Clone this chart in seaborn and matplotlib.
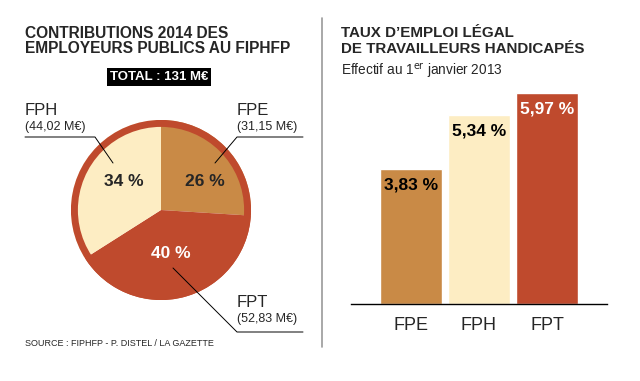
import matplotlib
matplotlib.use("Agg")
import matplotlib.pyplot as plt
from matplotlib.lines import Line2D
from matplotlib.patches import Circle
import pandas as pd
import seaborn as sns

# data
pie_labels = ["FPE", "FPT", "FPH"]
pie_share = [26, 40, 34]
pie_amounts = ["31,15 M€", "52,83 M€", "44,02 M€"]
bar_labels = ["FPE", "FPH", "FPT"]
bar_values = [3.83, 5.34, 5.97]
bar_text = ["3,83 %", "5,34 %", "5,97 %"]

colors = {"FPE": "#C98A46", "FPH": "#FDEDC3", "FPT": "#BF4A2D"}

sns.set_theme(style="white")
plt.rcParams["font.family"] = ["Liberation Sans", "DejaVu Sans"]

W, H = 640, 381
fig = plt.figure(figsize=(W / 100, H / 100), dpi=100)
fig.patch.set_facecolor("white")


def px(x, y):
    return x / W, 1 - y / H


def line(xs, ys, **kw):
    fig.add_artist(Line2D([x / W for x in xs], [1 - y / H for y in ys],
                          transform=fig.transFigure, **kw))


# ---- left: pie ----
ax_pie = fig.add_axes([71 / W, 1 - 300 / H, 180 / W, 180 / H])
ax_pie.pie(pie_share, colors=[colors[k] for k in pie_labels], startangle=90,
           counterclock=False, radius=1, wedgeprops=dict(linewidth=0))
ax_pie.add_patch(Circle((0, 0), 0.962, fill=False, edgecolor=colors["FPT"], lw=5))
ax_pie.set_xlim(-1, 1)
ax_pie.set_ylim(-1, 1)
ax_pie.axis("off")

fig.text(*px(25, 38), "CONTRIBUTIONS 2014 DES", fontsize=11.2, fontweight="bold", va="baseline")
fig.text(*px(25, 53), "EMPLOYEURS PUBLICS AU FIPHFP", fontsize=11.2, fontweight="bold", va="baseline")
fig.text(*px(159, 77), "TOTAL : 131 M€", fontsize=9.5, fontweight="bold", color="white",
         ha="center", va="center",
         bbox=dict(boxstyle="square,pad=0.25", facecolor="black", edgecolor="none"))

# slice names + amounts
fig.text(*px(25, 115), "FPH", fontsize=12, va="baseline")
fig.text(*px(25, 130), "(" + pie_amounts[2] + ")", fontsize=9, va="baseline")
fig.text(*px(237, 115), "FPE", fontsize=12, va="baseline")
fig.text(*px(237, 130), "(" + pie_amounts[0] + ")", fontsize=9, va="baseline")
fig.text(*px(237, 307), "FPT", fontsize=12, va="baseline")
fig.text(*px(237, 322), "(" + pie_amounts[1] + ")", fontsize=9, va="baseline")

line([25, 95, 113], [137, 137, 163], color="black", lw=0.7)
line([303, 237, 215], [137, 137, 163], color="black", lw=0.7)
line([303, 237, 173], [332, 332, 268], color="black", lw=0.7)

fig.text(*px(124, 182), f"{pie_share[2]} %", fontsize=12.5, fontweight="bold", ha="center", va="center")
fig.text(*px(205, 182), f"{pie_share[0]} %", fontsize=12.5, fontweight="bold", ha="center", va="center")
fig.text(*px(171, 253), f"{pie_share[1]} %", fontsize=12.5, fontweight="bold", color="white",
         ha="center", va="center")

fig.text(*px(25, 346), "SOURCE : FIPHFP - P. DISTEL / LA GAZETTE", fontsize=6.5, va="baseline")

# divider
line([322, 322], [18, 347], color="#9a9a9a", lw=1.2)

# ---- right: bars ----
fig.text(*px(341, 37), "TAUX D\u2019EMPLOI LÉGAL", fontsize=10.9, fontweight="bold", va="baseline")
fig.text(*px(341, 53), "DE TRAVAILLEURS HANDICAPÉS", fontsize=10.9, fontweight="bold", va="baseline")
fig.text(*px(341, 75), r"Effectif au 1$^{\mathrm{er}}$ janvier 2013", fontsize=9.8, va="baseline")

ax_bar = fig.add_axes([351 / W, 1 - 304 / H, 256 / W, 211 / H])
df = pd.DataFrame({"fp": bar_labels, "taux": bar_values})
sns.barplot(data=df, x="fp", y="taux", hue="fp", palette=colors, width=0.91,
            saturation=1, legend=False, ax=ax_bar)
ax_bar.set_xlim(-0.88, 2.88)
ax_bar.set_ylim(0, max(bar_values))
for side in ["top", "right", "left"]:
    ax_bar.spines[side].set_visible(False)
ax_bar.spines["bottom"].set_color("black")
ax_bar.spines["bottom"].set_linewidth(1)
ax_bar.set_yticks([])
ax_bar.set_xlabel("")
ax_bar.set_ylabel("")
ax_bar.tick_params(axis="x", length=0, labelsize=13, pad=9)
ax_bar.set_facecolor("none")
for i, (v, t) in enumerate(zip(bar_values, bar_text)):
    ax_bar.annotate(t, (i, v), xytext=(0, -11.5), textcoords="offset points",
                    ha="center", va="center", fontsize=12.5, fontweight="bold",
                    color="white" if bar_labels[i] == "FPT" else "black",
                    annotation_clip=False)

fig.savefig("out.png", dpi=100, facecolor="white")
